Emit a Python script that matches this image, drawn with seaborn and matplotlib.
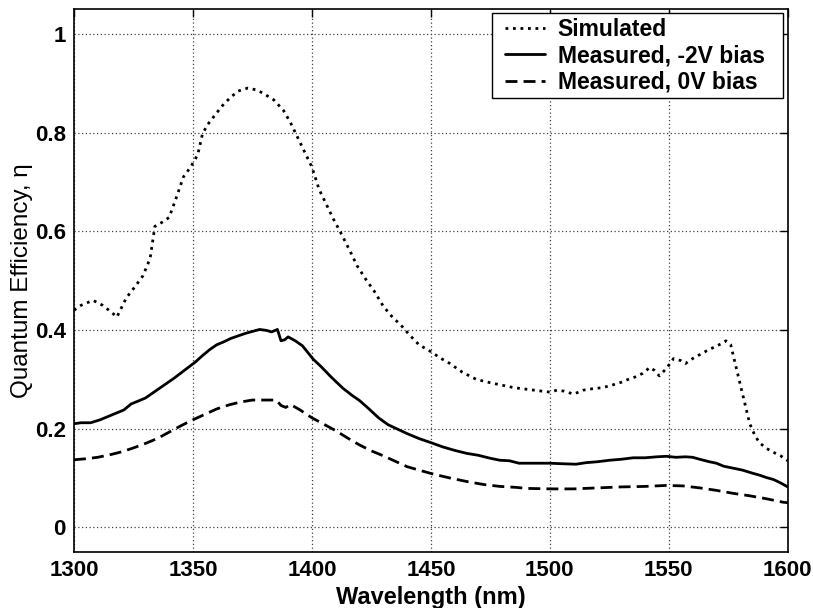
import numpy as np
import pandas as pd
import matplotlib
matplotlib.use("Agg")
import matplotlib.pyplot as plt
from matplotlib.lines import Line2D
from matplotlib.legend_handler import HandlerLine2D
import seaborn as sns

# ---------------- data ----------------
wl_sim = [1300, 1303, 1308, 1312, 1316, 1318, 1322, 1326, 1329, 1332, 1334, 1337, 1340, 1343,
          1346, 1349, 1352, 1354, 1356, 1360, 1363, 1366, 1369, 1373, 1377, 1380, 1384, 1388,
          1391, 1394, 1397, 1400, 1403, 1406, 1409, 1412, 1416, 1419, 1423, 1426, 1430, 1434,
          1437, 1441, 1445, 1450, 1454, 1458, 1463, 1469, 1475, 1480, 1485, 1490, 1495, 1500,
          1503, 1506, 1510, 1514, 1518, 1522, 1526, 1530, 1533, 1536, 1539, 1542, 1544, 1546,
          1549, 1552, 1555, 1557, 1560, 1563, 1566, 1569, 1572, 1574, 1576, 1578, 1580, 1582,
          1584, 1586, 1588, 1591, 1594, 1597, 1600]
qe_sim = [0.44, 0.45, 0.46, 0.45, 0.435, 0.426, 0.465, 0.49, 0.51, 0.545, 0.61, 0.618, 0.628, 0.668,
          0.71, 0.73, 0.755, 0.797, 0.815, 0.84, 0.858, 0.872, 0.884, 0.89, 0.886, 0.878, 0.866, 0.845,
          0.82, 0.79, 0.76, 0.73, 0.685, 0.655, 0.625, 0.598, 0.56, 0.53, 0.50, 0.48, 0.448, 0.425,
          0.412, 0.39, 0.37, 0.356, 0.343, 0.332, 0.315, 0.30, 0.293, 0.288, 0.283, 0.28, 0.277, 0.274,
          0.278, 0.276, 0.270, 0.278, 0.281, 0.283, 0.288, 0.294, 0.30, 0.305, 0.312, 0.324, 0.318, 0.307,
          0.322, 0.342, 0.338, 0.332, 0.342, 0.35, 0.358, 0.365, 0.372, 0.378, 0.37, 0.33, 0.29, 0.25,
          0.21, 0.188, 0.172, 0.16, 0.152, 0.145, 0.135]

wl_m2v = [1300, 1303, 1307, 1311, 1315, 1318, 1321, 1324, 1327, 1330, 1333, 1336, 1339, 1342,
          1345, 1348, 1351, 1354, 1357, 1360, 1363, 1366, 1369, 1372, 1375, 1378, 1381, 1383,
          1385.5, 1387, 1388.5, 1390, 1393, 1396, 1398, 1400.5, 1404, 1408, 1413, 1417, 1420, 1424,
          1428, 1432, 1436, 1440, 1445, 1451, 1455, 1460, 1465, 1470, 1475, 1479, 1483, 1487,
          1492, 1500, 1505, 1511, 1515, 1520, 1525, 1530, 1535, 1540, 1545, 1549, 1553, 1557,
          1560, 1563, 1567, 1570, 1573, 1577, 1581, 1585, 1588, 1591, 1594, 1597, 1600]
qe_m2v = [0.210, 0.212, 0.212, 0.218, 0.226, 0.232, 0.238, 0.25, 0.256, 0.262, 0.272, 0.282, 0.292, 0.302,
          0.313, 0.324, 0.335, 0.348, 0.36, 0.37, 0.376, 0.383, 0.388, 0.393, 0.397, 0.401, 0.399, 0.396,
          0.401, 0.378, 0.38, 0.386, 0.378, 0.368, 0.356, 0.341, 0.325, 0.305, 0.282, 0.267, 0.257, 0.24,
          0.222, 0.208, 0.199, 0.19, 0.18, 0.17, 0.163, 0.156, 0.15, 0.146, 0.14, 0.136, 0.135, 0.130,
          0.130, 0.130, 0.129, 0.128, 0.131, 0.133, 0.136, 0.138, 0.141, 0.141, 0.143, 0.144, 0.142, 0.143,
          0.142, 0.138, 0.133, 0.130, 0.124, 0.12, 0.116, 0.11, 0.106, 0.101, 0.097, 0.09, 0.082]

wl_m0v = [1300, 1305, 1310, 1315, 1320, 1325, 1330, 1335, 1340, 1345, 1350, 1355, 1360, 1365,
          1370, 1375, 1380, 1385, 1387, 1389, 1391, 1395, 1400, 1405, 1410, 1415, 1420, 1425,
          1430, 1435, 1440, 1445, 1451, 1458, 1465, 1472, 1479, 1486, 1490, 1500, 1510, 1520,
          1530, 1540, 1549, 1556, 1563, 1570, 1577, 1584, 1591, 1598, 1600]
qe_m0v = [0.137, 0.139, 0.142, 0.147, 0.153, 0.161, 0.17, 0.18, 0.193, 0.206, 0.218, 0.229, 0.24, 0.248,
          0.254, 0.258, 0.258, 0.258, 0.247, 0.243, 0.249, 0.238, 0.222, 0.209, 0.196, 0.181, 0.167, 0.155,
          0.145, 0.134, 0.123, 0.116, 0.108, 0.1, 0.093, 0.087, 0.083, 0.081, 0.079, 0.078, 0.078, 0.08,
          0.082, 0.083, 0.085, 0.084, 0.08, 0.075, 0.069, 0.064, 0.058, 0.051, 0.05]

labels = ["Simulated", "Measured, -2V bias", "Measured, 0V bias"]
x_ticks = [1300, 1350, 1400, 1450, 1500, 1550, 1600]
y_ticks = [0, 0.2, 0.4, 0.6, 0.8, 1]
y_ticklabels = ["0", "0.2", "0.4", "0.6", "0.8", "1"]

# ---------------- style ----------------
sns.set_style("white")
plt.rcParams["font.family"] = ["Liberation Sans", "DejaVu Sans"]
for k in ["text.color", "axes.labelcolor", "xtick.color", "ytick.color", "axes.edgecolor"]:
    plt.rcParams[k] = "black"

fig = plt.figure(figsize=(8.13, 6.08), dpi=100)
ax = fig.add_axes([0.091, 0.092, 0.878, 0.893])

lw = 2.0
styles = [(0, (1, 1.7)), "-", (0, (4.3, 2.2))]
series = [(wl_sim, qe_sim), (wl_m2v, qe_m2v), (wl_m0v, qe_m0v)]
for (xs, ys), lab, ls in zip(series, labels, styles):
    df = pd.DataFrame({"x": xs, "y": ys})
    sns.lineplot(data=df, x="x", y="y", ax=ax, color="black", linewidth=lw,
                 linestyle=ls, label=lab, sort=False, estimator=None)

ax.set_xlim(1300, 1600)
ax.set_ylim(-0.05, 1.05)
ax.set_xticks(x_ticks)
ax.set_xticklabels([str(t) for t in x_ticks])
ax.set_yticks(y_ticks)
ax.set_yticklabels(y_ticklabels)

ax.grid(True, linestyle=(0, (1, 2)), color="0.25", linewidth=0.9)
ax.tick_params(direction="in", length=6, width=1, top=True, right=True,
               labelsize=16, pad=6, color="black", labelcolor="black")
for lab in ax.get_xticklabels() + ax.get_yticklabels():
    lab.set_fontweight("bold")
for sp in ax.spines.values():
    sp.set_color("black")
    sp.set_linewidth(1.2)

ax.set_xlabel("Wavelength (nm)", fontsize=17, fontweight="bold", labelpad=3, color="black")
ax.set_ylabel("Quantum Efficiency, \u03b7", fontsize=17.5, fontweight="normal", labelpad=1,
              color="black")

handles, labs = ax.get_legend_handles_labels()
leg = ax.legend(handles, labs, loc="upper left", bbox_to_anchor=(0.5854, 0.8, 0.4076, 0.1926),
                mode="expand", borderaxespad=0.0,
                fontsize=16.5, frameon=True, fancybox=False,
                handlelength=2.11, handletextpad=0.57,
                labelspacing=0.15, borderpad=0.2,
                handler_map={Line2D: HandlerLine2D(xpad=0.37)})
leg.get_frame().set_edgecolor("black")
leg.get_frame().set_linewidth(1.0)
leg.get_frame().set_alpha(1)
for t in leg.get_texts():
    t.set_fontweight("bold")
    t.set_color("black")

fig.savefig("out.png", dpi=100)
